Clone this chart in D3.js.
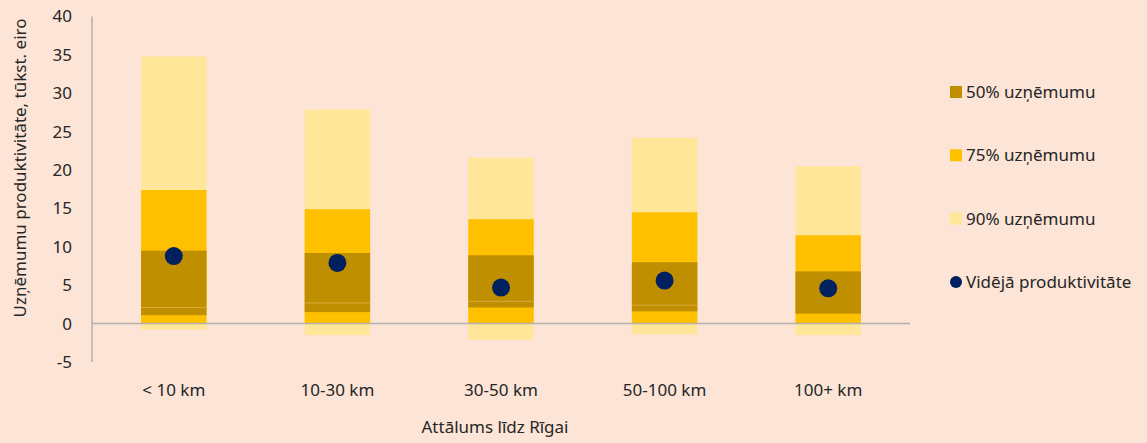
<!DOCTYPE html>
<html>
<head>
<meta charset="utf-8">
<script src="https://cdn.jsdelivr.net/npm/d3@7"></script>
<style>
  body { margin: 0; background: #fce4d6; }
  svg { display: block; font-family: "Noto Sans", "Open Sans", sans-serif; }
</style>
</head>
<body>
<div id="chart"></div>
<script>
// categories and percentile bands (tūkst. eiro)
var categories = ["< 10 km", "10-30 km", "30-50 km", "50-100 km", "100+ km"];
var p90lo = [-0.8, -1.5, -2.1, -1.4, -1.5];
var p90hi = [34.8, 27.9, 21.6, 24.2, 20.5];
var p75lo = [0, 0, 0, 0, 0];
var p75hi = [17.4, 14.9, 13.6, 14.5, 11.5];
var p50lo = [1.1, 1.5, 2.1, 1.6, 1.3];
var p50hi = [9.5, 9.2, 8.9, 8.0, 6.8];
var splitLine = [2.1, 2.7, 2.9, 2.4, null];
var average = [8.8, 7.9, 4.7, 5.6, 4.6];
var yTicks = [-5, 0, 5, 10, 15, 20, 25, 30, 35, 40];
var legendLabels = ["50% uzņēmumu", "75% uzņēmumu", "90% uzņēmumu", "Vidējā produktivitāte"];

var width = 1147, height = 443;
var margin = {left: 92, right: 237, top: 16.5, bottom: 81};

var colDark = "#bf8f00", colGold = "#ffc000", colLight = "#ffe699", colDot = "#002060";
var textCol = "#262626";
var fs = 17;

var svg = d3.select("#chart").append("svg")
    .attr("width", width)
    .attr("height", height);

svg.append("rect").attr("width", width).attr("height", height).attr("fill", "#fce4d6");

var x = d3.scaleBand()
    .domain(categories)
    .range([margin.left, width - margin.right])
    .paddingInner(0.6)
    .paddingOuter(0.3);

var y = d3.scaleLinear()
    .domain([-5, 40])
    .range([height - margin.bottom, margin.top]);

var data = categories.map(function(c, i) {
  return {cat: c, l90: p90lo[i], h90: p90hi[i], l75: p75lo[i], h75: p75hi[i],
          l50: p50lo[i], h50: p50hi[i], split: splitLine[i], avg: average[i]};
});

var g = svg.append("g");

function band(lo, hi, color) {
  g.selectAll(null)
      .data(data)
      .enter()
      .append("rect")
      .attr("x", function(d) { return x(d.cat); })
      .attr("width", x.bandwidth())
      .attr("y", function(d) { return y(d[hi]); })
      .attr("height", function(d) { return y(d[lo]) - y(d[hi]); })
      .attr("fill", color);
}
band("l90", "h90", colLight);
band("l75", "h75", colGold);
band("l50", "h50", colDark);

g.selectAll(".split")
    .data(data.filter(function(d) { return d.split != null; }))
    .enter()
    .append("line")
    .attr("x1", function(d) { return x(d.cat); })
    .attr("x2", function(d) { return x(d.cat) + x.bandwidth(); })
    .attr("y1", function(d) { return y(d.split); })
    .attr("y2", function(d) { return y(d.split); })
    .attr("stroke", "#d9ac3c")
    .attr("stroke-width", 1);

// axes
svg.append("line")
    .attr("x1", margin.left).attr("x2", margin.left)
    .attr("y1", y(40)).attr("y2", y(-5))
    .attr("stroke", "#b4b0ac").attr("stroke-width", 1.5);
svg.append("line")
    .attr("x1", margin.left).attr("x2", width - margin.right)
    .attr("y1", y(0)).attr("y2", y(0))
    .attr("stroke", "#b4b0ac").attr("stroke-width", 1.5);

g.selectAll(".dot")
    .data(data)
    .enter()
    .append("circle")
    .attr("cx", function(d) { return x(d.cat) + x.bandwidth() / 2; })
    .attr("cy", function(d) { return y(d.avg); })
    .attr("r", 9)
    .attr("fill", colDot);

svg.selectAll(".ytick")
    .data(yTicks)
    .enter()
    .append("text")
    .attr("x", 72)
    .attr("y", function(d) { return y(d); })
    .attr("dy", "0.35em")
    .attr("text-anchor", "end")
    .attr("font-size", fs)
    .attr("fill", textCol)
    .text(function(d) { return d; });

svg.selectAll(".xtick")
    .data(categories)
    .enter()
    .append("text")
    .attr("x", function(d) { return x(d) + x.bandwidth() / 2; })
    .attr("y", 390)
    .attr("dy", "0.35em")
    .attr("text-anchor", "middle")
    .attr("font-size", fs)
    .attr("fill", textCol)
    .text(function(d) { return d; });

svg.append("text")
    .attr("x", (margin.left + width - margin.right) / 2 - 6)
    .attr("y", 427)
    .attr("dy", "0.35em")
    .attr("text-anchor", "middle")
    .attr("font-size", fs)
    .attr("fill", textCol)
    .text("Attālums līdz Rīgai");

svg.append("text")
    .attr("transform", "translate(20,168) rotate(-90)")
    .attr("dy", "0.35em")
    .attr("text-anchor", "middle")
    .attr("font-size", fs)
    .attr("fill", textCol)
    .text("Uzņēmumu produktivitāte, tūkst. eiro");

// legend
var legendColors = [colDark, colGold, colLight, colDot];
var legend = svg.selectAll(".legend")
    .data(legendLabels)
    .enter()
    .append("g")
    .attr("transform", function(d, i) { return "translate(950," + (92 + i * 63.3) + ")"; });

legend.each(function(d, i) {
  var el = d3.select(this);
  if (i < 3) {
    el.append("rect").attr("x", 0).attr("y", -6).attr("width", 12).attr("height", 12)
        .attr("fill", legendColors[i]);
  } else {
    el.append("circle").attr("cx", 6).attr("cy", 0).attr("r", 6).attr("fill", legendColors[i]);
  }
  el.append("text")
      .attr("x", 16)
      .attr("dy", "0.35em")
      .attr("font-size", fs)
      .attr("fill", textCol)
      .text(d);
});
</script>
</body>
</html>
